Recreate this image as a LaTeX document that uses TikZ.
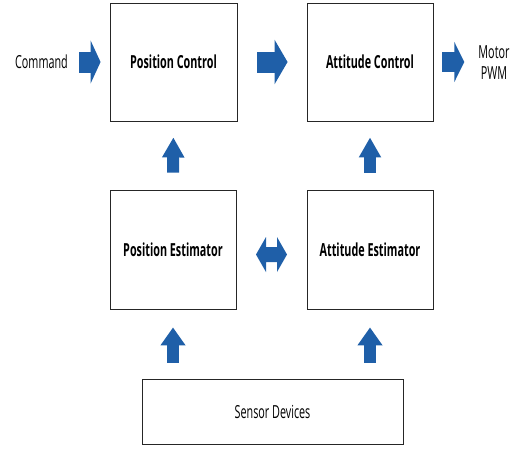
\documentclass[tikz,border=0pt]{standalone}
\usepackage{fontspec}
\setmainfont{Open Sans}[FakeStretch=0.6]
\usetikzlibrary{arrows.meta,calc}
\definecolor{arrblue}{RGB}{31,95,168}
\begin{document}
\begin{tikzpicture}[x=1pt,y=-1pt,
  blk/.style={draw=black!85,line width=0.9pt,rectangle,inner sep=0pt,font=\fontsize{18}{21}\selectfont\bfseries},
  lbl/.style={inner sep=0pt,font=\fontsize{18}{21}\selectfont,align=center},
  fatarrow/.style={draw=arrblue,line width=#1},
]
\useasboundingbox (0,0) rectangle (517,448);
\node[blk,minimum width=127pt,minimum height=118pt] (pc) at (173.5,62) {Position Control};
\node[blk,minimum width=126pt,minimum height=118pt] (ac) at (370,62) {Attitude Control};
\node[blk,minimum width=126pt,minimum height=119pt] (pe) at (173,249.5) {Position Estimator};
\node[blk,minimum width=126pt,minimum height=119pt] (ae) at (370,249.5) {Attitude Estimator};
\node[blk,font=\fontsize{18}{21}\selectfont,minimum width=261pt,minimum height=65pt] (sd) at (272.5,411.5) {Sensor Devices};
\node[lbl] (cmd) at (41.5,62) {Command};
\node[lbl] (mot) at (494,62.5) {Motor\\PWM};
% horizontal arrows
\draw[fatarrow=21pt,-{Triangle[length=10pt,width=43pt]},shorten <=11pt,shorten >=9pt] (cmd.east) -- (pc.west);
\draw[fatarrow=21pt,-{Triangle[length=13pt,width=44pt]},shorten <=20pt,shorten >=19pt] (pc.east) -- (ac.west);
\draw[fatarrow=20pt,-{Triangle[length=10pt,width=40pt]},shorten <=9pt,shorten >=14pt] (ac.east) -- (mot.west |- ac.east);
% up arrows
\draw[fatarrow=12pt,-{Triangle[length=20pt,width=21pt]},shorten <=17pt,shorten >=16pt] (pe.north) -- (pc.south);
\draw[fatarrow=12pt,-{Triangle[length=20pt,width=21pt]},shorten <=17pt,shorten >=16pt] (ae.north) -- (ac.south);
\draw[fatarrow=12pt,-{Triangle[length=18pt,width=24pt]},shorten <=16pt,shorten >=18pt] (sd.north -| pe.south) -- (pe.south);
\draw[fatarrow=12pt,-{Triangle[length=18pt,width=24pt]},shorten <=16pt,shorten >=18pt] (sd.north -| ae.south) -- (ae.south);
% double arrow between the estimators
\coordinate (dm) at ($(pe.east)!0.5!(ae.west)+(0,5)$);
\fill[arrblue] ($(dm)+(-15.5,0)$) -- ($(dm)+(-5.5,-17.5)$) -- ($(dm)+(-5.5,-7.5)$) -- ($(dm)+(5.5,-7.5)$)
  -- ($(dm)+(5.5,-17.5)$) -- ($(dm)+(15.5,0)$) -- ($(dm)+(5.5,17.5)$) -- ($(dm)+(5.5,7.5)$)
  -- ($(dm)+(-5.5,7.5)$) -- ($(dm)+(-5.5,17.5)$) -- cycle;
\end{tikzpicture}
\end{document}
